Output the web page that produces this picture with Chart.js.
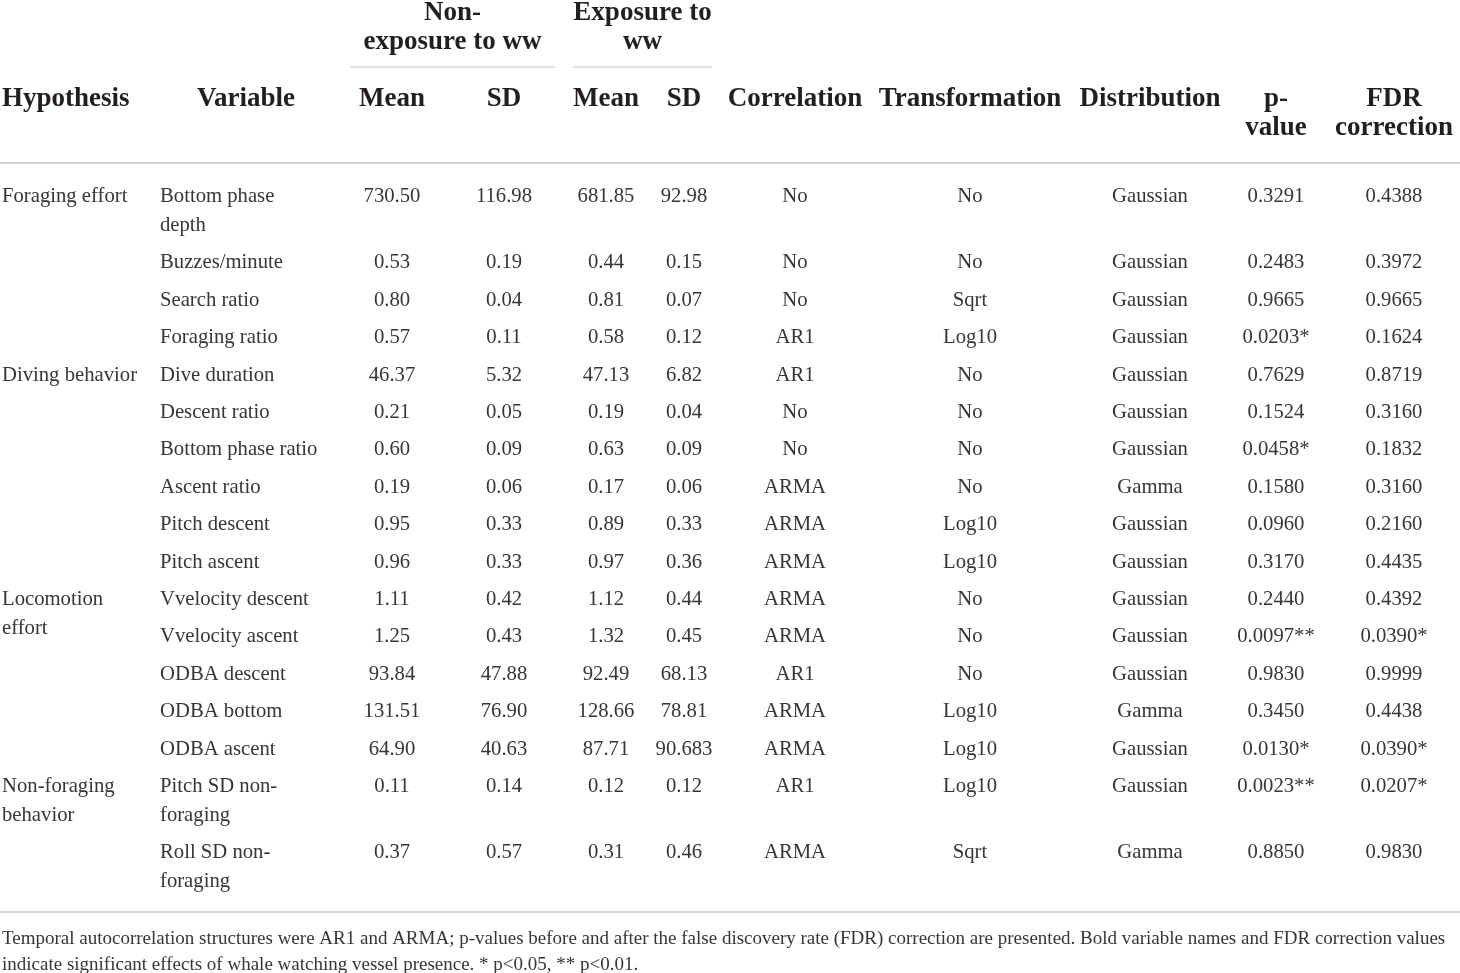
<!DOCTYPE html>
<html>
<head>
<meta charset="utf-8">
<script src="https://cdn.jsdelivr.net/npm/chart.js@4"></script>
<style>
  html, body { margin: 0; padding: 0; background: #fff; }
  #wrap { width: 1460px; height: 973px; position: relative; }
</style>
</head>
<body>
<div id="wrap"><canvas id="tableChart"></canvas></div>
<script>
// table content
const hypotheses = ['Foraging effort', '', '', '', 'Diving behavior', '', '', '', '', '',
  'Locomotion\neffort', '', '', '', '', 'Non-foraging\nbehavior', ''];
const variables = ['Bottom phase\ndepth', 'Buzzes/minute', 'Search ratio', 'Foraging ratio',
  'Dive duration', 'Descent ratio', 'Bottom phase ratio', 'Ascent ratio', 'Pitch descent',
  'Pitch ascent', 'Vvelocity descent', 'Vvelocity ascent', 'ODBA descent', 'ODBA bottom',
  'ODBA ascent', 'Pitch SD non-\nforaging', 'Roll SD non-\nforaging'];
const nonExpMean = ['730.50', '0.53', '0.80', '0.57', '46.37', '0.21', '0.60', '0.19', '0.95',
  '0.96', '1.11', '1.25', '93.84', '131.51', '64.90', '0.11', '0.37'];
const nonExpSD = ['116.98', '0.19', '0.04', '0.11', '5.32', '0.05', '0.09', '0.06', '0.33',
  '0.33', '0.42', '0.43', '47.88', '76.90', '40.63', '0.14', '0.57'];
const expMean = ['681.85', '0.44', '0.81', '0.58', '47.13', '0.19', '0.63', '0.17', '0.89',
  '0.97', '1.12', '1.32', '92.49', '128.66', '87.71', '0.12', '0.31'];
const expSD = ['92.98', '0.15', '0.07', '0.12', '6.82', '0.04', '0.09', '0.06', '0.33',
  '0.36', '0.44', '0.45', '68.13', '78.81', '90.683', '0.12', '0.46'];
const correlation = ['No', 'No', 'No', 'AR1', 'AR1', 'No', 'No', 'ARMA', 'ARMA', 'ARMA',
  'ARMA', 'ARMA', 'AR1', 'ARMA', 'ARMA', 'AR1', 'ARMA'];
const transformation = ['No', 'No', 'Sqrt', 'Log10', 'No', 'No', 'No', 'No', 'Log10', 'Log10',
  'No', 'No', 'No', 'Log10', 'Log10', 'Log10', 'Sqrt'];
const distribution = ['Gaussian', 'Gaussian', 'Gaussian', 'Gaussian', 'Gaussian', 'Gaussian',
  'Gaussian', 'Gamma', 'Gaussian', 'Gaussian', 'Gaussian', 'Gaussian', 'Gaussian', 'Gamma',
  'Gaussian', 'Gaussian', 'Gamma'];
const pValues = ['0.3291', '0.2483', '0.9665', '0.0203*', '0.7629', '0.1524', '0.0458*', '0.1580',
  '0.0960', '0.3170', '0.2440', '0.0097**', '0.9830', '0.3450', '0.0130*', '0.0023**', '0.8850'];
const fdrValues = ['0.4388', '0.3972', '0.9665', '0.1624', '0.8719', '0.3160', '0.1832', '0.3160',
  '0.2160', '0.4435', '0.4392', '0.0390*', '0.9999', '0.4438', '0.0390*', '0.0207*', '0.9830'];

const headers = ['Hypothesis', 'Variable', 'Mean', 'SD', 'Mean', 'SD', 'Correlation',
  'Transformation', 'Distribution', 'p-\nvalue', 'FDR\ncorrection'];
const groupHeaders = ['Non-\nexposure to ww', 'Exposure to\nww'];
const footnote = [
  'Temporal autocorrelation structures were AR1 and ARMA; p-values before and after the false discovery rate (FDR) correction are presented. Bold variable names and FDR correction values',
  'indicate significant effects of whale watching vessel presence. * p<0.05, ** p<0.01.'
];

// layout (separate from the data)
const colX = [2, 160, 392, 504, 606, 684, 795, 970, 1150, 1276, 1394];
const colAlign = ['left', 'left', 'center', 'center', 'center', 'center', 'center', 'center', 'center', 'center', 'center'];
const headerX = [2, 246, 392, 504, 606, 684, 795, 970, 1150, 1276, 1394];
const headerAlign = ['left', 'center', 'center', 'center', 'center', 'center', 'center', 'center', 'center', 'center', 'center'];
const groupSpan = [[350, 555], [573, 712]];
const firstRowY = 197;
const rowPitch = 37.4;
const linePitch = 28.6;
const headerRowY = 99;
const groupY = 13;
const headerLine = 163;
const bottomLine = 912;
const footY = 939;
const footPitch = 26;

const columns = [hypotheses, variables, nonExpMean, nonExpSD, expMean, expSD,
  correlation, transformation, distribution, pValues, fdrValues];

const bodyFont = '20.7px "Liberation Serif", serif';
const headFont = 'bold 27px "Liberation Serif", serif';
const footFont = '19px "Liberation Serif", serif';
const bodyColor = '#363636';
const headColor = '#231f20';
const ruleColor = '#c4c4c4';

// row positions follow from how many lines the variable name takes
const rowY = [];
let y = firstRowY;
variables.forEach(v => {
  rowY.push(y);
  y += rowPitch + (v.split('\n').length - 1) * linePitch;
});

const cells = [];
columns.forEach((col, c) => {
  col.forEach((text, r) => {
    if (text) cells.push({ x: colX[c], y: rowY[r], text, align: colAlign[c], font: bodyFont, color: bodyColor });
  });
});
headers.forEach((text, c) => {
  cells.push({ x: headerX[c], y: headerRowY, text, align: headerAlign[c], font: headFont, color: headColor });
});
groupHeaders.forEach((text, g) => {
  cells.push({ x: (groupSpan[g][0] + groupSpan[g][1]) / 2, y: groupY, text, align: 'center', font: headFont, color: headColor });
});
footnote.forEach((text, i) => {
  cells.push({ x: 2, y: footY + i * footPitch, text, align: 'left', font: footFont, color: bodyColor, fit: 1456 });
});

const tableText = {
  id: 'tableText',
  afterDatasetsDraw(chart) {
    const ctx = chart.ctx;
    const xs = chart.scales.x;
    const ys = chart.scales.y;
    ctx.save();

    // rules
    ctx.strokeStyle = ruleColor;
    ctx.lineWidth = 1.5;
    [headerLine, bottomLine].forEach(v => {
      ctx.beginPath();
      ctx.moveTo(xs.getPixelForValue(0), ys.getPixelForValue(v));
      ctx.lineTo(xs.getPixelForValue(1460), ys.getPixelForValue(v));
      ctx.stroke();
    });
    ctx.lineWidth = 1;
    groupSpan.forEach(([a, b]) => {
      ctx.beginPath();
      ctx.moveTo(xs.getPixelForValue(a), ys.getPixelForValue(67));
      ctx.lineTo(xs.getPixelForValue(b), ys.getPixelForValue(67));
      ctx.stroke();
    });

    // cell text, placed at the points the scatter dataset resolved
    const meta = chart.getDatasetMeta(0);
    const step = ys.getPixelForValue(linePitch) - ys.getPixelForValue(0);
    meta.data.forEach((pt, i) => {
      const cell = cells[i];
      ctx.font = cell.font;
      ctx.fillStyle = cell.color;
      ctx.textAlign = cell.align;
      ctx.textBaseline = 'middle';
      cell.text.split('\n').forEach((line, k) => {
        const ly = pt.y + k * step;
        if (cell.fit) ctx.fillText(line, pt.x, ly, cell.fit);
        else ctx.fillText(line, pt.x, ly);
      });
    });
    ctx.restore();
  }
};

new Chart(document.getElementById('tableChart'), {
  type: 'scatter',
  data: {
    datasets: [{
      data: cells.map(c => ({ x: c.x, y: c.y })),
      pointRadius: 0,
      pointHoverRadius: 0
    }]
  },
  options: {
    responsive: true,
    maintainAspectRatio: false,
    animation: false,
    layout: { padding: 0 },
    plugins: { legend: { display: false }, tooltip: { enabled: false } },
    scales: {
      x: { type: 'linear', min: 0, max: 1460, display: false },
      y: { type: 'linear', min: 0, max: 973, reverse: true, display: false }
    }
  },
  plugins: [tableText]
});
</script>
</body>
</html>
